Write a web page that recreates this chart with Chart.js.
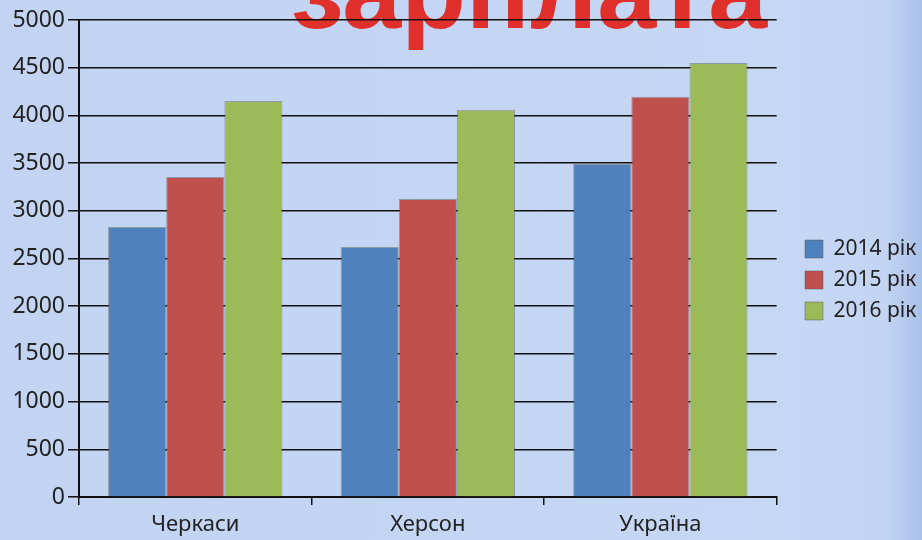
<!DOCTYPE html>
<html>
<head>
<meta charset="utf-8">
<script src="https://cdn.jsdelivr.net/npm/chart.js@4"></script>
<style>
  html, body { margin: 0; padding: 0; overflow: hidden; }
  body {
    width: 922px; height: 540px;
    background: linear-gradient(90deg, #c3d4f3 0%, #c6d7f4 85%, #c3d5f3 96%, #a9c1e9 100%);
  }
  canvas { display: block; }
</style>
</head>
<body>
<canvas id="salaryChart" width="922" height="540"></canvas>
<script>
// --- Дані ---
const regions = ['Черкаси', 'Херсон', 'Україна'];
const seriesNames = ['2014 рік', '2015 рік', '2016 рік'];
const salary2014 = [2830, 2620, 3490];
const salary2015 = [3355, 3125, 4195];
const salary2016 = [4150, 4060, 4550];
const barColors = ['#4f81bd', '#c0504d', '#9bbb59'];
const chartTitle = 'зарплата';

// --- Плагіни ---
const titlePlugin = {
    id: 'bigTitle',
    beforeDraw(chart) {
        const ctx = chart.ctx;
        ctx.save();
        ctx.font = 'bold 106px "Liberation Sans", Arial, sans-serif';
        ctx.fillStyle = '#e0302c';
        ctx.textBaseline = 'alphabetic';
        ctx.fillText(chartTitle, 291, 28);
        ctx.restore();
    }
};

const legendShift = {
    id: 'legendShift',
    afterLayout(chart) {
        const lg = chart.legend;
        const w = lg.width;
        lg.left = 805 - 10;
        lg.right = lg.left + w;
    }
};

const datasets = [salary2014, salary2015, salary2016].map((values, i) => ({
    label: seriesNames[i],
    data: values,
    backgroundColor: barColors[i],
    borderColor: 'rgba(80, 80, 80, 0.45)',
    borderWidth: 1,
    categoryPercentage: 0.75,
    barPercentage: 1.0
}));

new Chart(document.getElementById('salaryChart').getContext('2d'), {
    type: 'bar',
    data: { labels: regions, datasets: datasets },
    plugins: [titlePlugin, legendShift],
    options: {
        responsive: false,
        animation: false,
        layout: { padding: { top: 20, left: 0, right: 14, bottom: 0 } },
        plugins: {
            title: { display: false },
            tooltip: { enabled: false },
            legend: {
                position: 'right',
                align: 'center',
                labels: {
                    boxWidth: 18, boxHeight: 18, padding: 10,
                    color: '#222',
                    font: { family: '"Noto Sans", sans-serif', size: 21 }
                }
            }
        },
        scales: {
            x: {
                grid: { offset: true, drawOnChartArea: false, drawTicks: true, tickLength: 8, color: '#111', lineWidth: 1.5 },
                border: { display: true, color: '#111', width: 2 },
                ticks: { color: '#222', padding: 7, font: { family: '"Noto Sans", sans-serif', size: 22 } },
                afterFit: (scale) => { scale.height = 43; }
            },
            y: {
                min: 0, max: 5000,
                ticks: {
                    stepSize: 500, color: '#222', padding: 3,
                    font: { family: '"Noto Sans", sans-serif', size: 23 },
                    callback: (value) => String(value)
                },
                grid: { color: '#111', lineWidth: 1.5, tickLength: 11 },
                border: { display: true, color: '#111', width: 2 },
                afterFit: (scale) => { scale.width = 79; }
            }
        }
    }
});
</script>
</body>
</html>
